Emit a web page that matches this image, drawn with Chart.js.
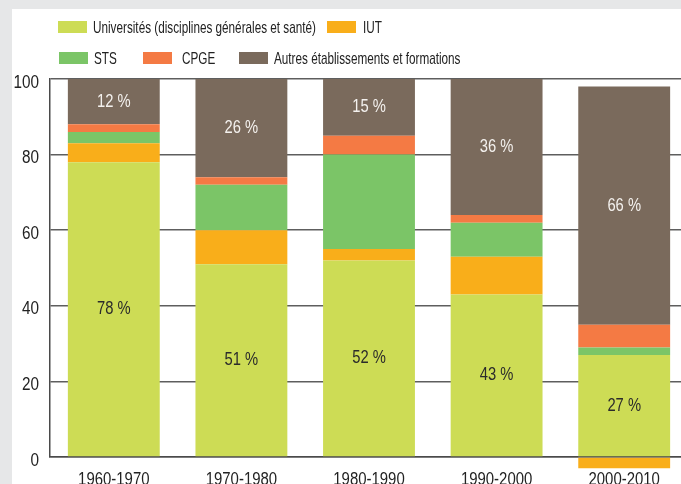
<!DOCTYPE html>
<html>
<head>
<meta charset="utf-8">
<script src="https://cdn.jsdelivr.net/npm/chart.js@4/dist/chart.umd.min.js"></script>
<style>
  html, body { margin: 0; padding: 0; overflow: hidden; background: #e6e7e8; }
  #wrap { width: 690px; height: 484px; }
</style>
</head>
<body>
<div id="wrap"><canvas id="chart" width="690" height="484"></canvas></div>
<script>
  "use strict";

  // periods
  var periods = ["1960-1970", "1970-1980", "1980-1990", "1990-2000", "2000-2010"];

  // contribution of each kind of institution (%)
  var universites = [78, 51, 52, 43, 27];
  var iut = [5, 9, 3, 10, -3];
  var sts = [3, 12, 25, 9, 2];
  var cpge = [2, 2, 5, 2, 6];
  var autres = [12, 26, 15, 36, 63];

  // labels printed on the bars
  var universitesLabels = ["78 %", "51 %", "52 %", "43 %", "27 %"];
  var autresLabels = ["12 %", "26 %", "15 %", "36 %", "66 %"];

  var yTicks = [0, 20, 40, 60, 80, 100];

  var FONT = "'Liberation Sans', Arial, sans-serif";

  // condensed text (the original uses a narrow face)
  function narrowText(c, text, x, y, sx, align) {
    c.save();
    c.translate(x, y);
    c.scale(sx, 1);
    c.textAlign = align || "left";
    c.fillText(text, 0, 0);
    c.restore();
  }

  // gray frame + white panel
  var panelPlugin = {
    id: "panel",
    beforeDraw: function (chart) {
      var c = chart.ctx;
      c.save();
      c.fillStyle = "#e6e7e8";
      c.fillRect(0, 0, chart.width, chart.height);
      c.fillStyle = "#ffffff";
      c.fillRect(12, 9, chart.width - 12, chart.height - 9);
      c.restore();
    },
  };

  // legend in two rows, like the original
  var legendPlugin = {
    id: "legendRows",
    afterDraw: function (chart) {
      var c = chart.ctx;
      var items = [
        { ds: 0, box: 58, text: 93, y: 21 },
        { ds: 1, box: 327, text: 363, y: 21 },
        { ds: 2, box: 59, text: 94, y: 52 },
        { ds: 3, box: 143, text: 182, y: 52 },
        { ds: 4, box: 239, text: 274, y: 52 },
      ];
      c.save();
      c.font = "17px " + FONT;
      c.textBaseline = "alphabetic";
      items.forEach(function (it) {
        var ds = chart.data.datasets[it.ds];
        c.fillStyle = ds.backgroundColor;
        c.fillRect(it.box, it.y, 29, 12);
        c.fillStyle = "#222";
        narrowText(c, ds.label, it.text, it.y + 12, 0.69);
      });
      c.restore();
    },
  };

  // tick labels, drawn at the scale positions
  var tickPlugin = {
    id: "narrowTicks",
    afterDraw: function (chart) {
      var c = chart.ctx;
      var xs = chart.scales.x, ys = chart.scales.y;
      c.save();
      c.font = "18px " + FONT;
      c.fillStyle = "#222";
      c.textBaseline = "alphabetic";
      yTicks.forEach(function (v) {
        narrowText(c, String(v), 39, ys.getPixelForValue(v) + 8.5, 0.85, "right");
      });
      periods.forEach(function (p, i) {
        narrowText(c, p, xs.getPixelForTick(i), 485, 0.83, "center");
      });
      c.restore();
    },
  };

  // percentages inside the bars
  var barLabelPlugin = {
    id: "barLabels",
    afterDatasetsDraw: function (chart) {
      var c = chart.ctx;
      c.save();
      c.font = "18px " + FONT;
      c.textBaseline = "middle";
      [[0, universitesLabels, "#2b2b2b"], [4, autresLabels, "#f4f1ee"]].forEach(function (d) {
        var meta = chart.getDatasetMeta(d[0]);
        meta.data.forEach(function (el, i) {
          c.fillStyle = d[2];
          narrowText(c, d[1][i], el.x, (el.y + el.base) / 2, 0.82, "center");
        });
      });
      c.restore();
    },
  };

  var ctx = document.getElementById("chart").getContext("2d");
  var myChart = new Chart(ctx, {
    type: "bar",
    data: {
      labels: periods,
      datasets: [
        { label: "Universités (disciplines générales et santé)", data: universites, backgroundColor: "#cddc55" },
        { label: "IUT", data: iut, backgroundColor: "#f9ae1a" },
        { label: "STS", data: sts, backgroundColor: "#7bc567" },
        { label: "CPGE", data: cpge, backgroundColor: "#f47a44" },
        { label: "Autres établissements et formations", data: autres, backgroundColor: "#7a6a5c" },
      ],
    },
    options: {
      responsive: false,
      animation: false,
      layout: { padding: { top: 79, right: 2, left: 0, bottom: 0 } },
      datasets: {
        bar: { barPercentage: 0.72, categoryPercentage: 1, clip: false, borderWidth: 0 },
      },
      plugins: {
        legend: { display: false },
        tooltip: { enabled: false },
      },
      scales: {
        x: {
          stacked: true,
          grid: { display: false },
          border: { color: "#4a4a4a", width: 1.5 },
          ticks: { color: "rgba(0,0,0,0)", font: { family: FONT, size: 16 } },
          afterFit: function (scale) { scale.height = 27; },
        },
        y: {
          stacked: true,
          min: 0,
          max: 100,
          afterBuildTicks: function (scale) {
            scale.ticks = yTicks.map(function (v) { return { value: v }; });
          },
          grid: { color: "#5e5e5e", lineWidth: 1.5, drawTicks: false },
          border: { color: "#4a4a4a", width: 1.5 },
          ticks: { color: "rgba(0,0,0,0)", font: { family: FONT, size: 16 } },
          afterFit: function (scale) { scale.width = 50; },
        },
      },
    },
    plugins: [panelPlugin, legendPlugin, tickPlugin, barLabelPlugin],
  });
</script>
</body>
</html>
